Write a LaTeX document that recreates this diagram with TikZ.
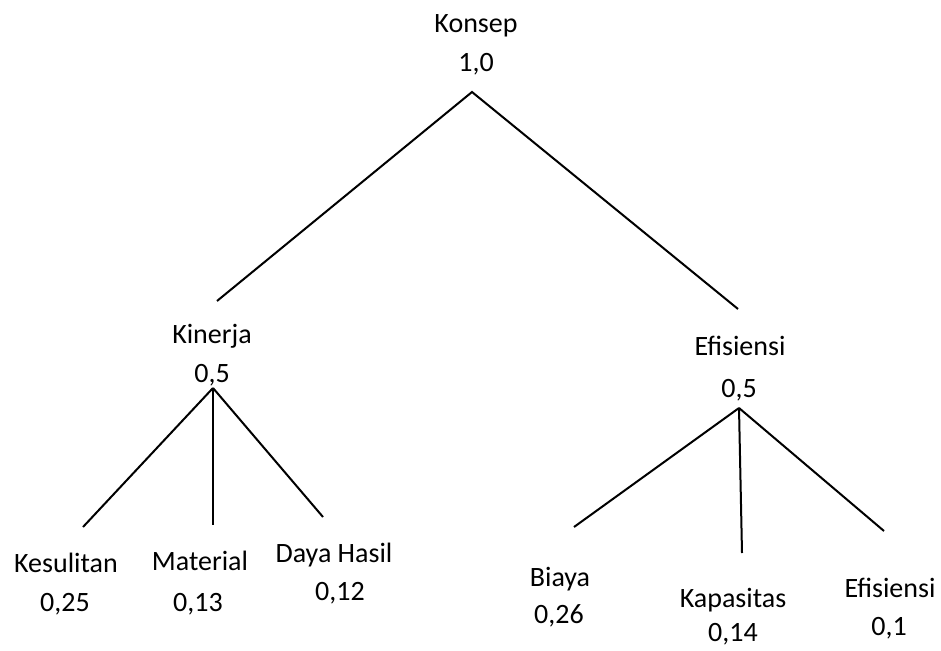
\documentclass[tikz,border=0pt]{standalone}
\usepackage{fontspec}
\setmainfont{Carlito}
\begin{document}
\begin{tikzpicture}[x=1pt,y=-1pt,
  lbl/.style={anchor=base,inner sep=0pt,font=\fontsize{28}{32}\selectfont},
  edge/.style={line width=2pt,black}]
\useasboundingbox (0,0) rectangle (941,650);
% labels
\node[lbl] (konsep) at (476,33) {Konsep};
\node[lbl] (konsepv) at (476,72) {1,0};
\node[lbl] (kinerja) at (212,343) {Kinerja};
\node[lbl] (kinerjav) at (212,382) {0,5};
\node[lbl] (efis) at (740,355) {Efisiensi};
\node[lbl] (efisv) at (739,397) {0,5};
\node[lbl] (kes) at (66,572) {Kesulitan};
\node[lbl] (kesv) at (65,611) {0,25};
\node[lbl] (mat) at (200,570) {Material};
\node[lbl] (matv) at (198,611) {0,13};
\node[lbl] (daya) at (334,562) {Daya Hasil};
\node[lbl] (dayav) at (340,600) {0,12};
\node[lbl] (biaya) at (560,586) {Biaya};
\node[lbl] (biayav) at (559,623) {0,26};
\node[lbl] (kap) at (733,607) {Kapasitas};
\node[lbl] (kapv) at (733,641) {0,14};
\node[lbl] (efl) at (890,597) {Efisiensi};
\node[lbl] (eflv) at (889,635) {0,1};
% connector ends
\coordinate (a0) at (472,92);
\coordinate (a0l) at (217,301);
\coordinate (a0r) at (738,309);
\coordinate (a1) at (213,388);
\coordinate (a1a) at (83,527);
\coordinate (a1b) at (213,525);
\coordinate (a1c) at (323,517);
\coordinate (a2) at (739,408);
\coordinate (a2a) at (574,527);
\coordinate (a2b) at (742,553);
\coordinate (a2c) at (884,531);
\draw[edge] (a0l) -- (a0) -- (a0r);
\draw[edge] (a1) -- (a1a);
\draw[edge] (a1) -- (a1b);
\draw[edge] (a1) -- (a1c);
\draw[edge] (a2) -- (a2a);
\draw[edge] (a2) -- (a2b);
\draw[edge] (a2) -- (a2c);
\end{tikzpicture}
\end{document}
